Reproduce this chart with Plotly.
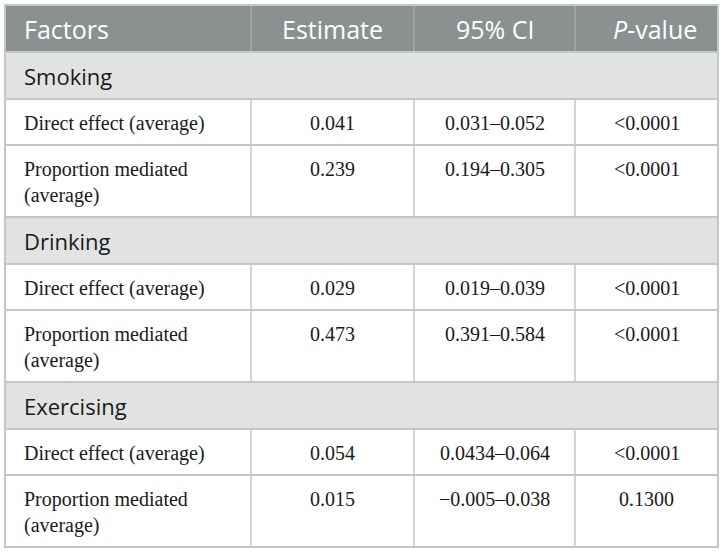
import plotly.graph_objects as go

# table contents
columns = ["Factors", "Estimate", "95% CI", "<i>P</i>-value"]
groups = ["Smoking", "Drinking", "Exercising"]
effects = ["Direct effect (average)", "Proportion mediated<br>(average)"]
estimates = ["0.041", "0.239", "0.029", "0.473", "0.054", "0.015"]
ci = ["0.031–0.052", "0.194–0.305", "0.019–0.039",
      "0.391–0.584", "0.0434–0.064", "−0.005–0.038"]
p_values = ["&lt;0.0001", "&lt;0.0001", "&lt;0.0001",
            "&lt;0.0001", "&lt;0.0001", "0.1300"]

W, H = 723, 554
col_edges = [5, 251, 414, 575, 718]
top = 5
header_h = 47
section_h = 47
line_h = 26

HEADER_BG = "#8b9191"
SECTION_BG = "#e0e3e1"
GRID = "#c3c7c6"
HEADER_SEP = "#a3a8a8"
TEXT = "#1a1a1a"

sans = "Open Sans, sans-serif"
serif = "Liberation Serif, Times New Roman, serif"

shapes = []
annotations = []


def rect(y0, y1, color):
    shapes.append(dict(type="rect", xref="x", yref="y", x0=col_edges[0], x1=col_edges[-1],
                       y0=y0, y1=y1, fillcolor=color, line=dict(width=0), layer="below"))


def vseps(y0, y1, color):
    for x in col_edges[1:-1]:
        shapes.append(dict(type="line", xref="x", yref="y", x0=x, x1=x, y0=y0, y1=y1,
                           line=dict(color=color, width=1.5)))


def hline(y):
    shapes.append(dict(type="line", xref="x", yref="y", x0=col_edges[0], x1=col_edges[-1],
                       y0=y, y1=y, line=dict(color=GRID, width=2)))


def cell_text(text, col, y, font, yanchor="middle", xshift=0):
    if col == 0:
        x, xanchor = col_edges[0] + 17, "left"
    else:
        x, xanchor = (col_edges[col] + col_edges[col + 1]) / 2, "center"
    annotations.append(dict(text=text, x=x, y=y, xref="x", yref="y", xanchor=xanchor,
                            yanchor=yanchor, align="left", showarrow=False, font=font,
                            xshift=xshift))


# header (the P-value label sits a little right of centre in the original)
y = top
rect(y, y + header_h, HEADER_BG)
vseps(y, y + header_h, HEADER_SEP)
for i, c in enumerate(columns):
    cell_text(c, i, y + header_h / 2, dict(family=sans, size=25, color="white"),
              xshift=8 if i == 3 else 0)
y += header_h

k = 0
for g in groups:
    hline(y)
    rect(y, y + section_h, SECTION_BG)
    cell_text(g, 0, y + section_h / 2, dict(family=sans, size=22, color=TEXT))
    y += section_h
    for e in effects:
        hline(y)
        n_lines = e.count("<br>") + 1
        h = 20 + line_h * n_lines
        vseps(y, y + h, GRID)
        body_font = dict(family=serif, size=20, color=TEXT)
        row = [e, estimates[k], ci[k], p_values[k]]
        for i, t in enumerate(row):
            cell_text(t, i, y + 11, body_font, yanchor="top")
        y += h
        k += 1

# outer border
shapes.append(dict(type="rect", xref="x", yref="y", x0=col_edges[0], x1=col_edges[-1],
                   y0=top, y1=y, line=dict(color=GRID, width=2)))

fig = go.Figure()
fig.add_trace(go.Scatter(x=[], y=[]))
fig.update_layout(
    width=W, height=H,
    margin=dict(l=0, r=0, t=0, b=0),
    paper_bgcolor="white", plot_bgcolor="white",
    xaxis=dict(range=[0, W], visible=False, fixedrange=True),
    yaxis=dict(range=[H, 0], visible=False, fixedrange=True),
    shapes=shapes, annotations=annotations,
    showlegend=False,
)
# drop the default page margin so the table sits at the top-left corner
fig.write_html("out.html", config=dict(displayModeBar=False),
               post_script="document.body.style.margin = '0';")
